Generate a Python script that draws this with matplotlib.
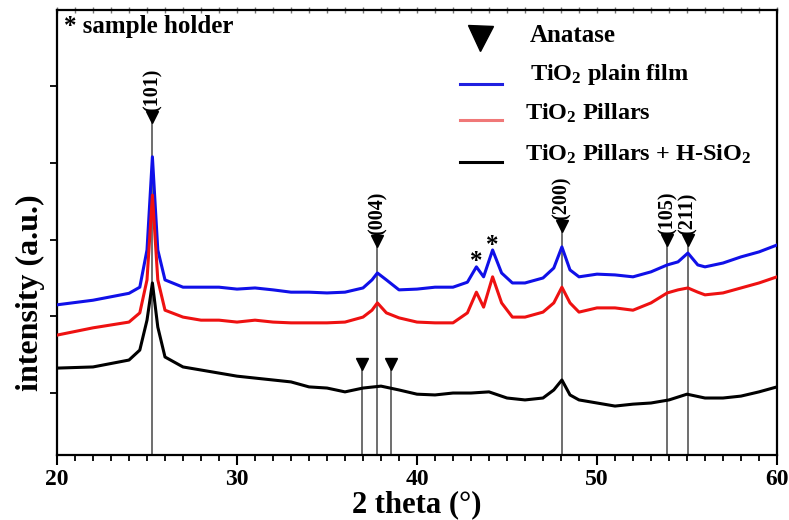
import matplotlib
matplotlib.use("Agg")
import matplotlib.pyplot as plt
from matplotlib.lines import Line2D

plt.rcParams["font.family"] = ["Liberation Serif", "DejaVu Serif"]
plt.rcParams["font.weight"] = "bold"
plt.rcParams["mathtext.fontset"] = "custom"
plt.rcParams["mathtext.rm"] = "Liberation Serif:bold"
plt.rcParams["mathtext.it"] = "Liberation Serif:bold"
plt.rcParams["mathtext.bf"] = "Liberation Serif:bold"

# 2-theta sampling and intensities (a.u.) of the three films
theta_plain = [20, 22, 24, 24.6, 25.0, 25.3, 25.6, 26, 27, 28, 29, 30, 31, 32, 33, 34, 35, 36, 37,
               37.5, 37.8, 38.3, 39, 40, 41, 42, 42.8, 43.3, 43.7, 44.2, 44.7, 45.3, 46, 47, 47.6,
               48.05, 48.5, 49, 50, 51, 52, 53, 53.9, 54.5, 55.05, 55.6, 56, 57, 58, 59, 60]
plain_film = [2150, 2210, 2300, 2380, 2865, 4080, 2865, 2475, 2380, 2380, 2380, 2355, 2370, 2345,
              2315, 2315, 2305, 2315, 2370, 2475, 2565, 2475, 2345, 2355, 2380, 2380, 2445, 2645,
              2515, 2865, 2565, 2435, 2435, 2500, 2630, 2905, 2605, 2515, 2550, 2540, 2515, 2580,
              2670, 2710, 2825, 2670, 2645, 2695, 2775, 2840, 2930]

theta_pillars = theta_plain
pillars = [1755, 1850, 1925, 2045, 2475, 3580, 2475, 2080, 1990, 1950, 1950, 1925, 1950, 1925,
           1915, 1915, 1915, 1925, 1990, 2080, 2175, 2045, 1980, 1925, 1915, 1915, 2045, 2315,
           2120, 2515, 2175, 1990, 1990, 2055, 2175, 2380, 2175, 2055, 2110, 2110, 2080, 2175,
           2305, 2345, 2370, 2315, 2280, 2305, 2370, 2435, 2515]

theta_hsio2 = [20, 22, 24, 24.6, 25.0, 25.3, 25.6, 26, 27, 28, 29, 30, 31, 32, 33, 34, 35, 36, 37,
               38, 39, 40, 41, 42, 43, 44, 45, 46, 47, 47.6, 48.05, 48.5, 49, 50, 51, 52, 53, 54,
               55, 56, 57, 58, 59, 60]
pillars_hsio2 = [1325, 1340, 1430, 1560, 1950, 2435, 1860, 1470, 1340, 1300, 1260, 1220, 1195,
                 1170, 1145, 1080, 1065, 1015, 1065, 1090, 1040, 985, 975, 1000, 1000, 1015, 935,
                 910, 935, 1040, 1170, 975, 910, 870, 830, 855, 870, 910, 985, 935, 935, 960,
                 1015, 1080]

# anatase reflections: position, label, height of the marker tip
hkl_pos = [25.3, 37.8, 48.05, 53.9, 55.05]
hkl_labels = ["(101)", "(004)", "(200)", "(105)", "(211)"]
hkl_tip = [4520, 2905, 3100, 2915, 2915]

# unlabeled anatase reflections for the H-SiO2 sample
extra_pos = [36.95, 38.55]
extra_tip = [1300, 1300]

# sample holder reflections
holder_pos = [43.3, 44.2]
holder_y = [2720, 2930]

W, H = 789, 520
fig = plt.figure(figsize=(W / 100, H / 100), dpi=100)
ax = fig.add_axes([57 / W, 1 - 455 / H, 720 / W, 445 / H])

grey = "#555555"
for x, t in zip(hkl_pos + extra_pos, hkl_tip + extra_tip):
    ax.plot([x, x], [0, t], color=grey, lw=1.2, zorder=1)
    ax.plot(x, t + 75, marker="v", color="black", ms=9, zorder=4, clip_on=False)
for x, t, lab in zip(hkl_pos, hkl_tip, hkl_labels):
    ax.annotate(lab, xy=(x, t + 150), xytext=(0, 0), textcoords="offset points",
                rotation=90, ha="center", va="bottom", fontsize=14.5, fontweight="bold")

ax.plot(theta_plain, plain_film, color="#1010e8", lw=2.2, zorder=3)
ax.plot(theta_pillars, pillars, color="#ee1111", lw=2.2, zorder=3)
ax.plot(theta_hsio2, pillars_hsio2, color="black", lw=2.2, zorder=3)

for x, y in zip(holder_pos, holder_y):
    ax.text(x, y, "*", ha="center", va="center", fontsize=18, fontweight="bold")

ax.set_xlim(20, 60)
ax.set_ylim(192, 5994)
ax.set_xticks([20, 30, 40, 50, 60])
ax.set_xticks(range(20, 61), minor=True)
ax.set_yticks([1000, 2000, 3000, 4000, 5000])
ax.set_yticklabels([])
ax.tick_params(axis="x", which="major", direction="out", length=7, width=1.5,
               labelsize=17, pad=3, top=False)
ax.tick_params(axis="x", which="minor", direction="out", length=4, width=1.3, top=False)
ax.tick_params(axis="y", which="major", direction="out", length=5, width=1.3)
for lbl in ax.get_xticklabels():
    lbl.set_fontweight("bold")
for s in ax.spines.values():
    s.set_linewidth(1.6)

# light ticks along the top frame
top = ax.secondary_xaxis("top")
top.set_xticks(range(20, 61))
top.set_xticklabels([])
top.tick_params(direction="inout", length=4, width=1.0, color="#777777")
top.spines["top"].set_visible(False)

ax.set_xlabel("2 theta (°)", fontsize=22, fontweight="bold", labelpad=0)
ax.set_ylabel("intensity (a.u.)", fontsize=23, fontweight="bold")
ax.yaxis.set_label_coords(-0.016, 0.365)


def fx(px):
    return px / W


def fy(py):
    return 1 - py / H


fig.text(fx(64), fy(27), "* sample holder", fontsize=18, fontweight="bold", va="center")

# legend
fig.add_artist(Line2D([fx(480)], [fy(38)], marker="v", color="black", ms=18, lw=0))
fig.text(fx(530), fy(36), "Anatase", fontsize=18, fontweight="bold", va="center")
legend_rows = [("#2020e0", 84, 75, "TiO$_2$ plain film", 530),
               ("#f07878", 120, 113, "TiO$_2$ Pillars", 525),
               ("black", 162, 154, "TiO$_2$ Pillars + H-SiO$_2$", 525)]
for col, ly, ty, txt, tx in legend_rows:
    fig.add_artist(Line2D([fx(460), fx(502)], [fy(ly), fy(ly)], color=col, lw=2.2))
    fig.text(fx(tx), fy(ty), txt, fontsize=17.5, fontweight="bold", va="center")

fig.savefig("out.png", dpi=100)
